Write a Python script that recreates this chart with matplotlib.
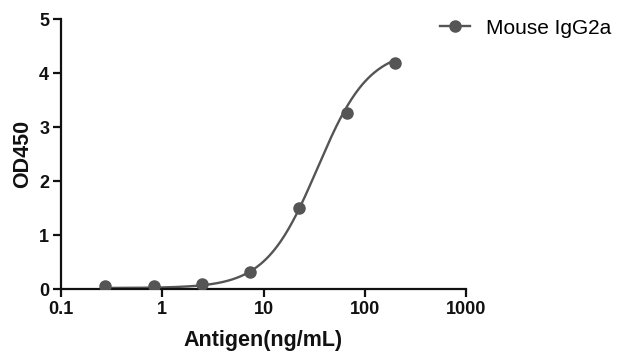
import matplotlib
matplotlib.use('Agg')
import matplotlib.pyplot as plt
import numpy as np
from matplotlib.ticker import FixedLocator, FixedFormatter, NullLocator

plt.rcParams.update({
    'font.family': ['Liberation Sans', 'DejaVu Sans'],
    'font.size': 13,
})

# measured points (3-fold dilution series)
antigen = [0.274, 0.823, 2.47, 7.41, 22.2, 66.7, 200.0]
od450 = [0.05, 0.06, 0.10, 0.32, 1.51, 3.26, 4.19]

# 4PL fit parameters
bottom, top, ec50, hill = 0.02, 4.45, 34.0, 1.7

xticks = [0.1, 1, 10, 100, 1000]
xtick_labels = ['0.1', '1', '10', '100', '1000']
yticks = [0, 1, 2, 3, 4, 5]

color = '#555555'

fig = plt.figure(figsize=(6.23, 3.6), dpi=100)
ax = fig.add_axes([0.098, 0.197, 0.650, 0.750])

xs = np.logspace(np.log10(antigen[0]), np.log10(antigen[-1]), 300)
fit = bottom + (top - bottom) / (1 + (ec50 / xs) ** hill)
ax.plot(xs, fit, color=color, lw=1.7, zorder=2)
ax.plot(antigen, od450, 'o', color=color, ms=8, zorder=3)
# legend handle: line + marker
handle, = ax.plot([], [], '-o', color=color, lw=1.7, ms=8, label='Mouse IgG2a')

ax.set_xscale('log')
ax.set_xlim(0.1, 1000)
ax.set_ylim(0, 5)
ax.xaxis.set_major_locator(FixedLocator(xticks))
ax.xaxis.set_major_formatter(FixedFormatter(xtick_labels))
ax.xaxis.set_minor_locator(NullLocator())
ax.set_yticks(yticks)

for s in ['top', 'right']:
    ax.spines[s].set_visible(False)
for s in ['left', 'bottom']:
    ax.spines[s].set_linewidth(1.6)
    ax.spines[s].set_color('#111111')
ax.tick_params(width=1.6, length=5.5, color='#111111', labelsize=13, pad=3)
for lbl in ax.get_xticklabels() + ax.get_yticklabels():
    lbl.set_fontweight('bold')
    lbl.set_color('#111111')

ax.set_xlabel('Antigen(ng/mL)', fontsize=15.5, fontweight='bold', color='#111111', labelpad=9)
ax.set_ylabel('OD450', fontsize=15.5, fontweight='bold', color='#111111', labelpad=4)

fig.legend(handles=[handle], loc='center left', bbox_to_anchor=(0.706, 0.922),
           frameon=False, fontsize=15, handlelength=1.45, handletextpad=0.75,
           borderpad=0, borderaxespad=0)

fig.savefig('out.png', dpi=100)
